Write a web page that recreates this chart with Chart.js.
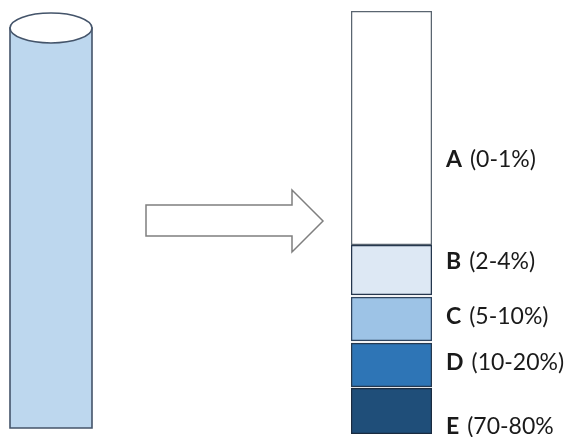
<!DOCTYPE html>
<html><head><meta charset="utf-8">
<script src="https://cdn.jsdelivr.net/npm/chart.js@4/dist/chart.umd.min.js"></script>
<style>html,body{margin:0;padding:0;background:#fff;}canvas{display:block;}</style>
</head><body>
<canvas id="c" width="568" height="437" style="width:568px;height:437px"></canvas>
<script>
// Data (top to bottom)
const letters = ['A', 'B', 'C', 'D', 'E'];
const rangeLabels = ['(0-1%)', '(2-4%)', '(5-10%)', '(10-20%)', '(70-80%'];
const segmentHeights = [234, 50, 44, 44, 46]; // schematic heights of the layers
const segmentGaps = [0, 2, 2, 1];           // gap below each layer (A..D)

// Styles
const fills = ['#ffffff', '#dde8f4', '#9dc3e6', '#2e75b6', '#1f4e79'];
const borders = ['#5a6570', '#24364d', '#2f4560', '#24384f', '#1a2b40'];
const labelNudge = [32, -8, -2, -2, 16];

// build floating bars from bottom upward
const n = letters.length;
const ranges = new Array(n);
let acc = 0;
for (let i = n - 1; i >= 0; i--) {
  ranges[i] = [acc, acc + segmentHeights[i]];
  acc += segmentHeights[i] + (i > 0 ? segmentGaps[i - 1] : 0);
}
const total = acc;

const datasets = letters.map((l, i) => ({
  label: l,
  data: [ranges[i]],
  backgroundColor: fills[i],
  borderColor: borders[i],
  borderWidth: 1.6,
  borderSkipped: false,
  barPercentage: 1,
  categoryPercentage: 1
}));

const decoPlugin = {
  id: 'deco',
  beforeDatasetsDraw(chart) {
    const ctx = chart.ctx;
    ctx.save();
    // cylinder
    ctx.lineWidth = 1.6;
    ctx.strokeStyle = '#44546a';
    ctx.fillStyle = '#bdd7ee';
    ctx.beginPath();
    ctx.rect(10, 28, 82, 400);
    ctx.fill(); ctx.stroke();
    ctx.beginPath();
    ctx.ellipse(51, 28, 41, 15, 0, 0, Math.PI * 2);
    ctx.fillStyle = '#ffffff';
    ctx.fill(); ctx.stroke();
    // arrow
    ctx.beginPath();
    ctx.moveTo(146, 205); ctx.lineTo(292, 205); ctx.lineTo(292, 190);
    ctx.lineTo(323, 221); ctx.lineTo(292, 252); ctx.lineTo(292, 236);
    ctx.lineTo(146, 236); ctx.closePath();
    ctx.fillStyle = '#ffffff'; ctx.fill();
    ctx.strokeStyle = '#7f7f7f'; ctx.lineWidth = 1.5; ctx.stroke();
    ctx.restore();
  },
  afterDatasetsDraw(chart) {
    const ctx = chart.ctx;
    const yScale = chart.scales.y;
    ctx.save();
    ctx.textBaseline = 'middle';
    ctx.fillStyle = '#1a1a1a';
    const x0 = chart.chartArea.right + 14;
    letters.forEach((l, i) => {
      const yc = yScale.getPixelForValue((ranges[i][0] + ranges[i][1]) / 2) + labelNudge[i];
      ctx.font = 'bold 23px Lato, "Liberation Sans", sans-serif';
      ctx.fillText(l, x0, yc);
      const w = ctx.measureText(l).width + 8;
      ctx.font = '23px Lato, "Liberation Sans", sans-serif';
      ctx.fillText(rangeLabels[i], x0 + w, yc);
    });
    ctx.restore();
  }
};

new Chart(document.getElementById('c'), {
  type: 'bar',
  data: { labels: ['layers'], datasets },
  options: {
    responsive: false,
    devicePixelRatio: 1,
    animation: false,
    grouped: false,
    layout: { padding: { left: 351, right: 136, top: 11, bottom: 3 } },
    plugins: { legend: { display: false }, tooltip: { enabled: false } },
    scales: {
      x: { display: false },
      y: { display: false, min: 0, max: total }
    }
  },
  plugins: [decoPlugin]
});
</script>
</body></html>
